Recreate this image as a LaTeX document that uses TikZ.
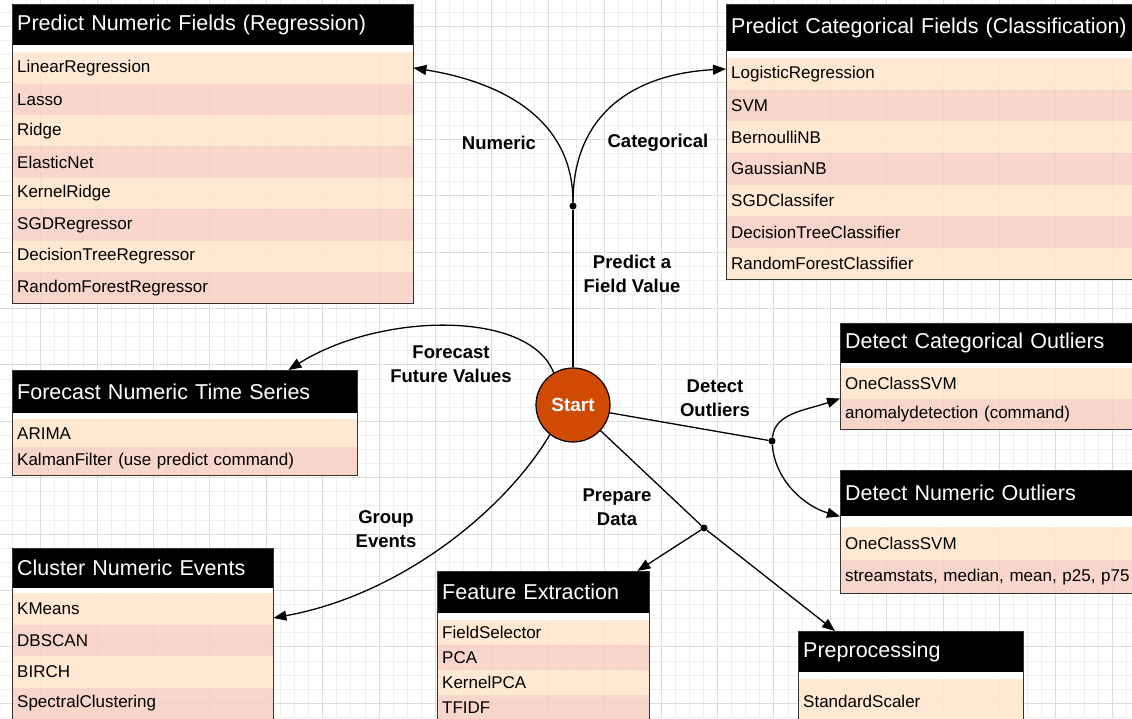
\documentclass[tikz,border=0pt]{standalone}
\usepackage{fontspec}
\setmainfont{Liberation Sans}
\usetikzlibrary{arrows.meta}

\definecolor{rowA}{HTML}{FFE6CC}
\definecolor{rowB}{HTML}{F7CFC3}
\definecolor{startred}{HTML}{D14A03}
\definecolor{gridlo}{HTML}{EEEEEE}
\definecolor{gridhi}{HTML}{DCDCDC}

\begin{document}
\begin{tikzpicture}[x=1pt,y=-1pt,
	head/.style={fill=black,text=white,anchor=north west,inner xsep=5pt,inner ysep=0pt,align=left,font=\fontsize{21.5}{24}\selectfont},
	item/.style={anchor=north west,inner xsep=5pt,inner ysep=0pt,align=left,fill opacity=0.85,text opacity=1,font=\fontsize{17}{20}\selectfont},
	tabframe/.style={draw=black!80,line width=1pt},
	lab/.style={align=center,font=\bfseries\fontsize{18.5}{24}\selectfont},
	wire/.style={line width=1.3pt},
	link/.style={wire,-{Triangle[length=13pt,width=10pt]}},
	joint/.style={circle,fill=black,inner sep=0pt,minimum size=7pt}]
	\useasboundingbox (0,0) rectangle (1132,718);
	\fill[white] (0,0) rectangle (1132,718);
	% grid
	\foreach \g in {0,...,79} \draw[gridlo,line width=0.8pt] ({12.4+14.1*\g},0) -- ++(0,718);
	\foreach \g in {0,...,50} \draw[gridlo,line width=0.8pt] (0,{12.3+14.1*\g}) -- ++(1132,0);
	\foreach \g in {0,...,19} \draw[gridhi,line width=0.9pt] ({40.6+56.4*\g},0) -- ++(0,718);
	\foreach \g in {0,...,12} \draw[gridhi,line width=0.9pt] (0,{26.4+56.4*\g}) -- ++(1132,0);

	% regression
	\node[head,text width=391pt,minimum height=41pt] (reg) at (12,4) {Predict Numeric Fields (Regression)};
	\fill[white] (12,45) rectangle (413,52);
	\foreach \t [count=\i] in {LinearRegression,Lasso,Ridge,ElasticNet,KernelRidge,SGDRegressor,DecisionTreeRegressor,RandomForestRegressor}{
		\ifodd\i\relax \def\rc{rowA}\else \def\rc{rowB}\fi
		\node[item,fill=\rc,text width=391pt,minimum height=31.4pt] (reg-\i) at (12,{52+31.4*(\i-1)}) {\t};
	}
	\draw[tabframe] (12,4) rectangle (413,303);

	% classification
	\node[head,text width=414pt,minimum height=47pt] (cls) at (726,4) {Predict Categorical Fields (Classification)};
	\fill[white] (726,51) rectangle (1150,58);
	\foreach \t [count=\i] in {LogisticRegression,SVM,BernoulliNB,GaussianNB,SGDClassifer,DecisionTreeClassifier,RandomForestClassifier}{
		\ifodd\i\relax \def\rc{rowA}\else \def\rc{rowB}\fi
		\node[item,fill=\rc,text width=414pt,minimum height=31.6pt] (cls-\i) at (726,{58+31.6*(\i-1)}) {\t};
	}
	\draw[tabframe] (726,4) rectangle (1150,279);

	% time series
	\node[head,text width=335pt,minimum height=43pt] (fc) at (12,370) {Forecast Numeric Time Series};
	\fill[white] (12,413) rectangle (357,419);
	\foreach \t [count=\i] in {ARIMA,KalmanFilter (use predict command)}{
		\ifodd\i\relax \def\rc{rowA}\else \def\rc{rowB}\fi
		\node[item,fill=\rc,text width=335pt,minimum height=28pt] (fc-\i) at (12,{419+28*(\i-1)}) {\t};
	}
	\draw[tabframe] (12,370) rectangle (357,475);

	% categorical outliers
	\node[head,text width=300pt,minimum height=40pt] (dco) at (840,323) {Detect Categorical Outliers};
	\fill[white] (840,363) rectangle (1150,368);
	\foreach \t [count=\i] in {OneClassSVM,anomalydetection (command)}{
		\ifodd\i\relax \def\rc{rowA}\else \def\rc{rowB}\fi
		\node[item,fill=\rc,text width=300pt,minimum height=30.5pt] (dco-\i) at (840,{368+30.5*(\i-1)}) {\t};
	}
	\draw[tabframe] (840,323) rectangle (1150,429);

	% numeric outliers
	\node[head,text width=300pt,minimum height=46pt] (dno) at (840,470) {Detect Numeric Outliers};
	\fill[white] (840,516) rectangle (1150,527);
	\foreach \t [count=\i] in {OneClassSVM,{streamstats, median, mean, p25, p75}}{
		\ifodd\i\relax \def\rc{rowA}\else \def\rc{rowB}\fi
		\node[item,fill=\rc,text width=300pt,minimum height=33pt] (dno-\i) at (840,{527+33*(\i-1)}) {\t};
	}
	\draw[tabframe] (840,470) rectangle (1150,593);

	% clustering
	\node[head,text width=251pt,minimum height=40pt] (cl) at (12,548) {Cluster Numeric Events};
	\fill[white] (12,588) rectangle (273,593);
	\foreach \t [count=\i] in {KMeans,DBSCAN,BIRCH,SpectralClustering}{
		\ifodd\i\relax \def\rc{rowA}\else \def\rc{rowB}\fi
		\node[item,fill=\rc,text width=251pt,minimum height=31.5pt] (cl-\i) at (12,{593+31.5*(\i-1)}) {\t};
	}
	\draw[tabframe] (12,548) rectangle (273,719);

	% feature extraction
	\node[head,text width=202pt,minimum height=42pt] (fe) at (437,571) {Feature Extraction};
	\fill[white] (437,613) rectangle (649,620);
	\foreach \t [count=\i] in {FieldSelector,PCA,KernelPCA,TFIDF}{
		\ifodd\i\relax \def\rc{rowA}\else \def\rc{rowB}\fi
		\node[item,fill=\rc,text width=202pt,minimum height=25pt] (fe-\i) at (437,{620+25*(\i-1)}) {\t};
	}
	\draw[tabframe] (437,571) rectangle (649,720);

	% preprocessing
	\node[head,text width=215pt,minimum height=41pt] (pp) at (798,631) {Preprocessing};
	\fill[white] (798,672) rectangle (1023,679);
	\node[item,fill=rowA,text width=215pt,minimum height=44pt] (pp-1) at (798,679) {StandardScaler};
	\draw[tabframe] (798,631) rectangle (1023,723);

	% hub and branches
	\node[circle,draw,line width=1.2pt,fill=startred,text=white,minimum size=74pt,font=\bfseries\fontsize{19}{22}\selectfont] (start) at (573,405) {Start};
	\node[joint] (j1) at (573,206) {};
	\node[joint] (j2) at (772,441) {};
	\node[joint] (j3) at (704,528) {};

	\draw[wire] (start) -- (j1);
	\draw[link] (j1) .. controls +(0,-88) and +(87,14) .. (reg-1.east);
	\draw[link] (j1) .. controls +(0,-90) and +(-95,5) .. ([yshift=5pt]cls-1.west);
	\draw[link] (start.121) .. controls +(-24,-63) and +(92,-58) .. ([xshift=-69pt]fc.north east);
	\draw[link] (start.232) .. controls +(-45,76) and +(127,-23) .. ([yshift=-9pt]cl-1.east);
	\draw[wire] (start.-12) -- (j2);
	\draw[link] (j2) .. controls +(3,-28) and +(-35,12) .. (dco-2.north west);
	\draw[link] (j2) .. controls +(3,40) and +(-35,-10) .. (dno.south west);
	\draw[wire] (start.-43) -- (j3);
	\draw[link] (j3) -- ([xshift=37pt]pp.north west);
	\draw[link] (j3) -- ([xshift=-12pt]fe.north east);

	\node[lab] (lnum) at (499,143) {Numeric};
	\node[lab] (lcat) at (658,143) {Categorical};
	\node[lab] (lpred) at (632,274) {Predict a\\Field Value};
	\node[lab] (lfore) at (451,364) {Forecast\\Future Values};
	\node[lab] (lout) at (715,398) {Detect\\Outliers};
	\node[lab] (lgrp) at (386,529) {Group\\Events};
	\node[lab] (lprep) at (617,507) {Prepare\\Data};
\end{tikzpicture}
\end{document}
